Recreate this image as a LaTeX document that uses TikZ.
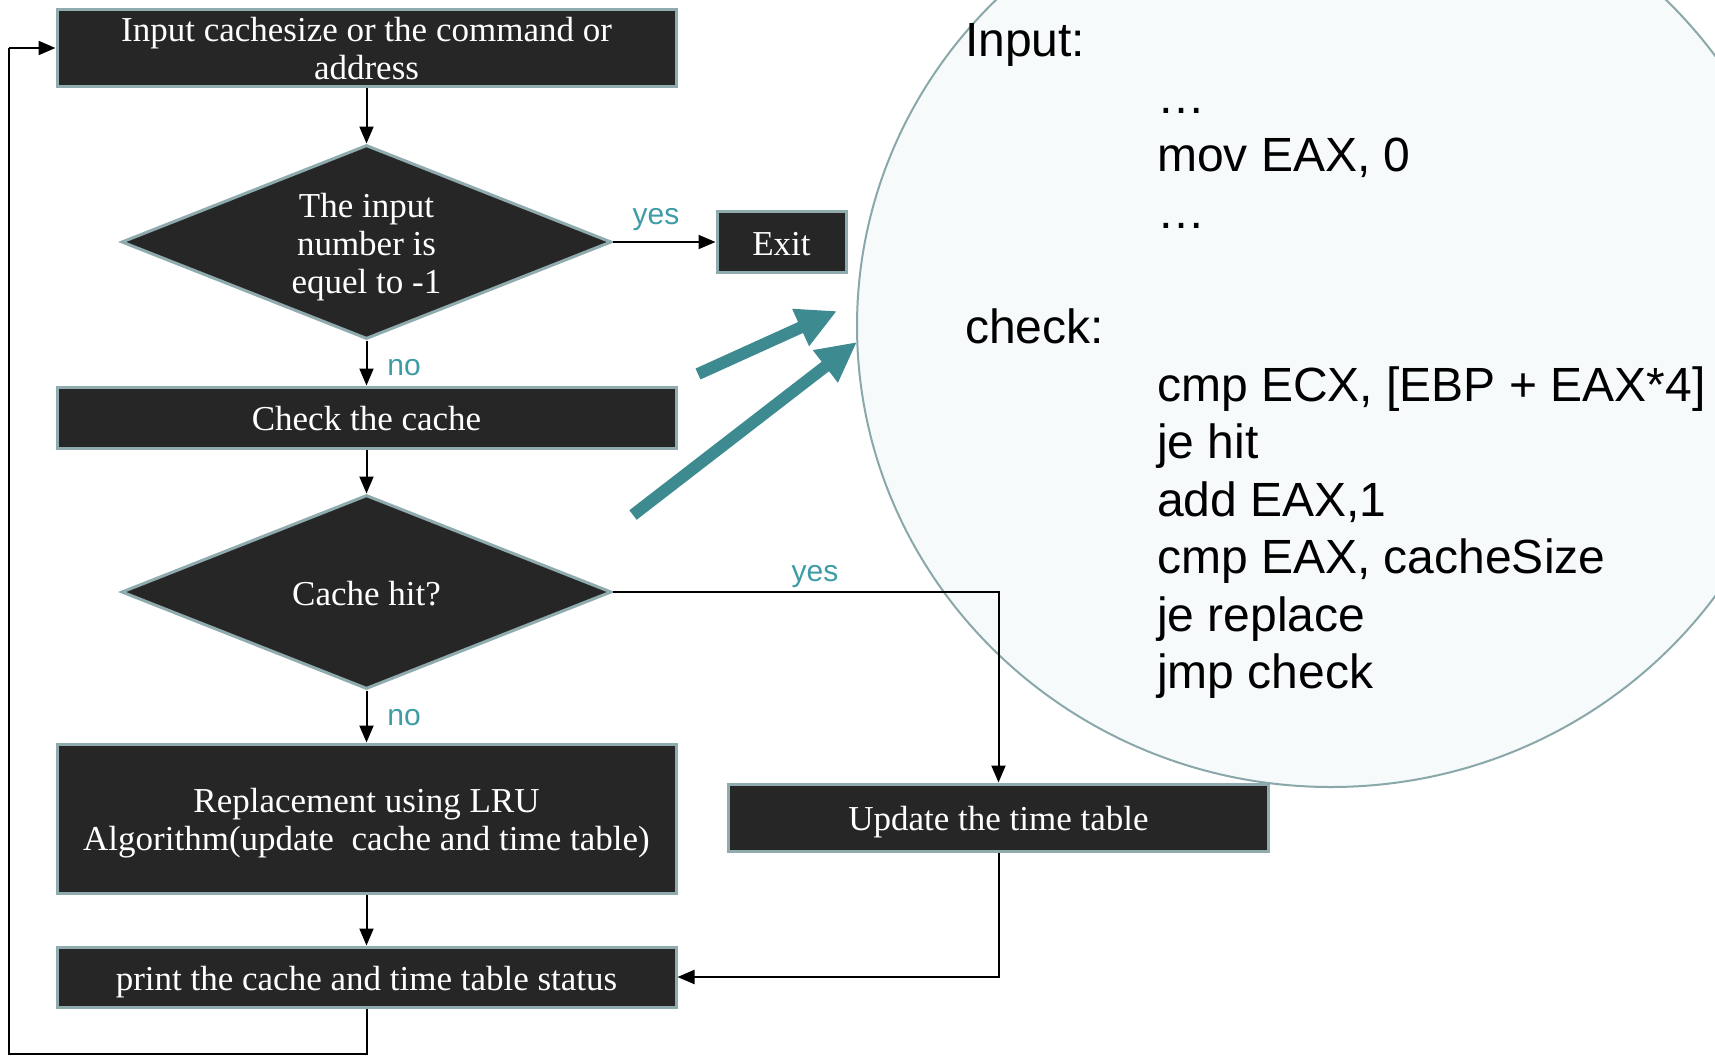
\documentclass[tikz,border=0pt]{standalone}
\usepackage{fontspec}
\setmainfont{Liberation Serif}
\newfontfamily\codefont{Liberation Sans}
\usetikzlibrary{shapes.geometric,arrows.meta}
\definecolor{boxfill}{HTML}{262626}
\definecolor{boxline}{HTML}{8FABAE}
\definecolor{lbl}{HTML}{3E9CA6}
\definecolor{bigarrow}{HTML}{3D8B91}
\definecolor{bubblefill}{HTML}{F6FAFB}
\definecolor{bubbleline}{HTML}{8AA8AA}
% box text sits a little below the geometric centre (dimensions kept, ink lowered)
\newcommand{\boxtext}[1]{\raisebox{-5.5pt}[\height][\depth]{\begin{tabular}{@{}c@{}}#1\end{tabular}}}
\begin{document}
\begin{tikzpicture}[x=1pt,y=-1pt,
  proc/.style={rectangle, fill=boxfill, draw=boxline, line width=3pt, text=white,
    font=\fontsize{35}{38}\selectfont, inner sep=0pt},
  decide/.style={diamond, aspect=2.5, fill=boxfill, draw=boxline, line width=3pt, text=white,
    font=\fontsize{35}{38}\selectfont, inner sep=0pt,
    minimum width=490pt, minimum height=194pt},
  flow/.style={line width=2pt, -{Triangle[length=17pt,width=14pt]}},
  loopline/.style={line width=2pt},
  tag/.style={text=lbl, font=\codefont\fontsize{30}{30}\selectfont, inner sep=0pt},
  pointer/.style={draw=bigarrow, line width=12pt, -{Triangle[length=40pt,width=38pt]}},
  bubble/.style={fill=bubblefill, draw=bubbleline, line width=2pt},
  code/.style={font=\codefont\fontsize{48}{57.5}\selectfont, anchor=base west, inner sep=0pt}
]
\useasboundingbox (0,0) rectangle (1715,1055);
\clip (0,0) rectangle (1715,1055);

% teal pointers towards the code bubble
\coordinate (p1s) at (698,374);
\coordinate (p1e) at (837,311);
\coordinate (p2s) at (633,515);
\coordinate (p2e) at (857,342);
\draw[pointer] (p1s) -- (p1e);
\draw[pointer] (p2s) -- (p2e);

% code bubble
\draw[bubble] (1331,326) ellipse [x radius=474pt, y radius=461pt];
\node[code] (lin) at (965,56) {Input:};
\node[code] (c1) at (1157,113.5) {…};
\node[code] (c2) at (1157,171) {mov EAX, 0};
\node[code] (c3) at (1157,228.5) {…};
\node[code] (lchk) at (965,343.5) {check:};
\node[code] (c4) at (1157,401) {cmp ECX, [EBP + EAX*4]};
\node[code] (c5) at (1157,458.5) {je hit};
\node[code] (c6) at (1157,516) {add EAX,1};
\node[code] (c7) at (1157,573.5) {cmp EAX, cacheSize};
\node[code] (c8) at (1157,631) {je replace};
\node[code] (c9) at (1157,688.5) {jmp check};

% flowchart nodes
\node[proc, minimum width=619pt, minimum height=77pt] (top) at (366.5,47.5)
  {\boxtext{Input cachesize or the command or\\address}};
\node[decide] (d1) at (366.5,242) {\boxtext{The input\\number is\\equel to -1}};
\node[proc, minimum width=129pt, minimum height=61pt] (exit) at (781.5,242) {\boxtext{Exit}};
\node[proc, minimum width=619pt, minimum height=61pt] (check) at (366.5,417.5) {\boxtext{Check the cache}};
\node[decide] (d2) at (366.5,592) {\boxtext{Cache hit?}};
\node[proc, minimum width=619pt, minimum height=149pt] (repl) at (366.5,818.5)
  {\boxtext{Replacement using LRU\\Algorithm(update\ \ cache and time table)}};
\node[proc, minimum width=540pt, minimum height=67pt] (upd) at (998.5,817.5) {\boxtext{Update the time table}};
\node[proc, minimum width=619pt, minimum height=60pt] (print) at (366.5,977)
  {\boxtext{print the cache and time table status}};

% connectors
\draw[flow] (top.south) -- (d1.north);
\draw[flow] (d1.east) -- (exit.west);
\draw[flow] (d1.south) -- (check.north);
\draw[flow] (check.south) -- (d2.north);
\draw[flow] (d2.south) -- (repl.north);
\draw[flow] (d2.east) -| (upd.north);
\draw[flow] (repl.south) -- (print.north);
\draw[flow] (upd.south) |- (print.east);
\coordinate (lb) at (9,1054);
\coordinate (lt) at (9,48);
\draw[loopline] (print.south) -- (print.south |- lb) -- (lb) -- (lt);
\draw[flow] (lt) -- (top.west |- lt);

% branch labels
\node[tag] (y1) at (656,220) {yes};
\node[tag] (n1) at (404,368) {no};
\node[tag] (y2) at (815,577) {yes};
\node[tag] (n2) at (404,718) {no};
\end{tikzpicture}
\end{document}
